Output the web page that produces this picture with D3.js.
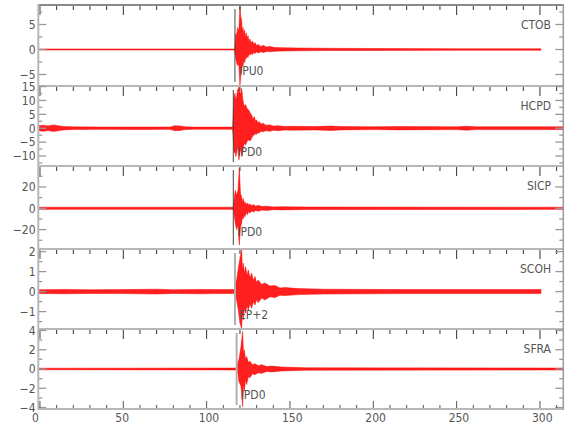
<!DOCTYPE html>
<html><head><meta charset="utf-8">
<script src="https://cdn.jsdelivr.net/npm/d3@7"></script>
<style>
html,body{margin:0;padding:0;background:#fff;}
svg text{font-family:"Liberation Sans Narrow","DejaVu Sans Condensed","Liberation Sans",sans-serif;}
</style></head>
<body><svg id="c" width="580" height="440"></svg>
<script>
// ---------- data ----------
const stations = ["CTOB","HCPD","SICP","SCOH","SFRA"];
const phases   = ["IPU0","IPD0","IPD0","EP+2","IPD0"];
const pickTimes = [117.0, 116.0, 116.0, 117.0, 118.0];
const yMaxs = [8.9, 15.2, 39.7, 2.13, 4.15];
const yMins = [-7.3, -13.6, -38.2, -1.87, -4.15];
const yTickLabels = [[-5,0,5],[-10,-5,0,5,10,15],[-20,0,20],[-1,0,1,2],[-4,-2,0,2,4]];
const yMinorSteps = [2.5, 2.5, 10, 0.5, 1];
const xTickLabels = [0,50,100,150,200,250,300];
const xMinorStep = 10;
const timeDomain = [-1, 314];

// CTOB envelope (time s, upper, lower)
const ctobT  = [-1,116.6,117.0,117.5,118.0,118.5,119.3,120.0,120.5,121.0,121.4,121.8,122.3,122.8,123.3,123.8,124.3,124.8,125.4,126.0,126.7,127.5,128.3,129.0,130.0,131.0,132.5,134.0,136.0,138.0,141,146,155,170,200,250,300.6];
const ctobHi = [0.1,0.1,0.6,3.2,2.6,4.4,3.6,8.8,6.5,5.9,3.5,4.4,3.0,3.9,2.4,3.3,2.0,2.8,1.6,2.1,1.3,1.7,1.0,1.4,0.8,1.0,0.6,0.8,0.5,0.6,0.4,0.35,0.3,0.25,0.2,0.15,0.15];
const ctobLo = [-0.1,-0.1,-0.6,-1.8,-2.6,-3.2,-3.0,-7.1,-5.2,-4.5,-2.8,-3.4,-2.2,-2.6,-1.7,-1.8,-1.3,-1.6,-1.0,-1.1,-0.8,-1.0,-0.6,-0.8,-0.5,-0.7,-0.45,-0.6,-0.4,-0.45,-0.35,-0.3,-0.25,-0.2,-0.2,-0.15,-0.15];

// HCPD envelope
const hcpdT  = [-1,2,5,8,11,14,20,36,60,78,81,84,87,92,110,115.6,116.0,116.5,117.0,117.5,118.0,118.6,119.4,120.2,121.0,121.8,122.6,123.4,124.2,125.2,126.2,127.0,127.8,128.6,129.3,130.0,130.8,131.5,132.5,134,135.5,138,140,143,147,151,165,175,180,200,215,250,256,262,314];
const hcpdHi = [0.9,1.1,0.8,1.2,0.9,0.6,0.5,0.4,0.45,0.4,0.9,0.8,0.5,0.4,0.4,0.4,6,11.4,12.6,10,11.4,13.8,14.8,12,14.4,10,7.8,8.5,7.2,6.6,5.4,4.8,3.2,4.2,2.6,3.0,1.9,2.4,1.5,1.8,1.1,1.2,0.8,0.9,0.6,0.7,0.6,0.8,0.6,0.5,0.6,0.5,0.7,0.5,0.5];
const hcpdLo = [-0.9,-1.1,-0.8,-1.2,-0.9,-0.6,-0.5,-0.4,-0.45,-0.4,-0.9,-0.8,-0.5,-0.4,-0.4,-0.4,-4,-9,-7.8,-10.2,-9,-6.6,-11.4,-7.2,-10.2,-8,-5.4,-6,-4.8,-4.2,-4.5,-3.6,-2.5,-2.4,-2.0,-2.2,-1.5,-1.8,-1.1,-1.3,-0.9,-1.1,-0.7,-0.9,-0.6,-0.7,-0.6,-0.8,-0.6,-0.5,-0.6,-0.5,-0.7,-0.5,-0.5];

// SICP envelope
const sicpT  = [-1,116.0,116.5,117.2,118.0,118.8,119.6,120.3,121.0,121.5,122.0,122.5,123.0,123.7,124.5,125.2,126.0,127.0,128.0,129.5,131,133,136,140,145,160,314];
const sicpHi = [1,1,8,17,12,17,37.9,14,10.9,6,9,5,6,3.5,5,3,4,2.5,3.5,2,2.8,1.6,2,1.3,1.5,1.2,1];
const sicpLo = [-1,-1,-6,-14,-20,-16,-34.6,-18,-14,-8,-10,-6,-8,-4,-6,-3,-4.5,-2.5,-3.5,-2,-2.8,-1.6,-2,-1.3,-1.5,-1.2,-1];

// SCOH envelope
const scohT  = [-1,15,30,50,70,80,95,105,116.8,117.3,118.0,119.0,120.0,121.0,121.5,122.0,122.7,123.4,124.2,125.0,126.0,127.0,128.0,129.0,130.0,131.0,133.0,135.0,138.0,141,144,147,155,170,220,300.6];
const scohHi = [0.09,0.11,0.09,0.1,0.12,0.09,0.11,0.1,0.1,0.4,0.58,1.17,1.67,2.08,1.1,1.42,0.9,1.25,0.8,1.08,0.7,0.92,0.55,0.75,0.45,0.58,0.35,0.43,0.28,0.3,0.18,0.2,0.15,0.12,0.1,0.1];
const scohLo = [-0.09,-0.11,-0.09,-0.1,-0.12,-0.09,-0.11,-0.1,-0.1,-0.3,-0.42,-0.92,-1.58,-1.85,-1.0,-1.42,-0.8,-1.08,-0.7,-0.92,-0.6,-0.83,-0.5,-0.67,-0.4,-0.55,-0.32,-0.42,-0.26,-0.3,-0.18,-0.2,-0.15,-0.12,-0.1,-0.1];

// SFRA envelope
const sfraT  = [-1,118.0,118.6,119.4,120.6,121.6,122.1,122.6,123.3,124.0,125.0,126.0,127.5,129.0,131.0,133.0,136.0,139.0,145,160,314];
const sfraHi = [0.08,0.1,0.6,1.0,2.3,3.9,1.5,2.0,1.0,1.3,0.7,0.8,0.45,0.55,0.35,0.45,0.25,0.3,0.2,0.12,0.1];
const sfraLo = [-0.08,-0.1,-0.25,-1.3,-1.8,-3.9,-1.6,-2.3,-1.1,-1.6,-0.8,-0.9,-0.5,-0.6,-0.4,-0.45,-0.25,-0.3,-0.2,-0.12,-0.1];

const envT  = [ctobT, hcpdT, sicpT, scohT, sfraT];
const envHi = [ctobHi, hcpdHi, sicpHi, scohHi, sfraHi];
const envLo = [ctobLo, hcpdLo, sicpLo, scohLo, sfraLo];

// ---------- layout ----------
const svg = d3.select("#c");
const panelTops = [5, 86, 166, 249, 329];
const bottom = 409;
const L = 38.3, R = 563.3;
const x = d3.scaleLinear().domain(timeDomain).range([L, R]);
const fmt = v => (v < 0 ? "\u2212" + Math.abs(v) : String(v));

const defs = svg.append("defs");

stations.forEach((st, i) => {
  const top = panelTops[i];
  const bot = i < 4 ? panelTops[i+1] : bottom;
  const y = d3.scaleLinear().domain([yMins[i], yMaxs[i]]).range([bot, top]);
  const g = svg.append("g");

  defs.append("clipPath").attr("id", "clip" + i)
    .append("rect").attr("x", L).attr("y", top).attr("width", R - L).attr("height", bot - top);

  // waveform envelope
  const n = Math.min(envT[i].length, envHi[i].length, envLo[i].length);
  const pts = d3.range(n).map(k => ({t: envT[i][k], hi: envHi[i][k], lo: envLo[i][k]}));
  const area = d3.area().x(d => x(d.t)).y0(d => y(d.lo)).y1(d => y(d.hi));
  g.append("path").datum(pts).attr("d", area)
    .attr("clip-path", "url(#clip" + i + ")")
    .attr("fill", "#ff0000").attr("fill-opacity", 0.88)
    .attr("stroke", "#ff0000").attr("stroke-width", 0.5);

  // pick marker
  const light = i >= 3;
  g.append("line")
    .attr("x1", x(pickTimes[i])).attr("x2", x(pickTimes[i]))
    .attr("y1", top + 4).attr("y2", bot - 4)
    .attr("stroke", light ? "#b0b0b0" : "#444")
    .attr("stroke-width", light ? 2 : 1);
  g.append("text")
    .attr("x", x(pickTimes[i]) + 4).attr("y", top + 66)
    .attr("dy", "0.35em").attr("font-size", 12).attr("fill", "#555")
    .text(phases[i]);

  // station name
  g.append("text").attr("x", 551).attr("y", top + 20).attr("dy", "0.35em")
    .attr("text-anchor", "end").attr("font-size", 12).attr("fill", "#555").text(st);

  // top frame line
  g.append("line").attr("x1", L).attr("x2", R).attr("y1", top).attr("y2", top)
    .attr("stroke", i === 0 ? "#8a8a8a" : "#b8b8b8").attr("stroke-width", 2);

  // top x ticks (pointing down)
  const xt = d3.range(0, timeDomain[1], xMinorStep);
  g.selectAll(".xt").data(xt).enter().append("line")
    .attr("x1", d => x(d)).attr("x2", d => x(d))
    .attr("y1", top + 1).attr("y2", d => top + (d % 50 === 0 ? 10 : 5))
    .attr("stroke", "#333").attr("stroke-width", 1);

  // y ticks
  const step = yMinorSteps[i];
  const minors = d3.range(Math.ceil(yMins[i] / step) * step, yMaxs[i] + 1e-9, step)
    .filter(v => y(v) > top + 0.5 && y(v) < bot - 0.5);
  const isMajor = v => yTickLabels[i].some(m => Math.abs(m - v) < 1e-9);
  [[L, 1], [R, -1]].forEach(([x0, dir]) => {
    g.selectAll(null).data(minors).enter().append("line")
      .attr("x1", x0).attr("x2", d => x0 + dir * (isMajor(d) ? 8 : 4))
      .attr("y1", d => y(d)).attr("y2", d => y(d))
      .attr("stroke", "#999").attr("stroke-width", 1.3);
  });
  g.selectAll(null).data(yTickLabels[i]).enter().append("text")
    .attr("x", 35.5).attr("y", d => y(d)).attr("dy", "0.36em")
    .attr("text-anchor", "end").attr("font-size", 12).attr("fill", "#555")
    .text(fmt);
});

// outer frame
svg.append("line").attr("x1", L).attr("x2", L).attr("y1", 4).attr("y2", bottom + 1)
  .attr("stroke", "#b8b8b8").attr("stroke-width", 2);
svg.append("line").attr("x1", R).attr("x2", R).attr("y1", 4).attr("y2", bottom + 1)
  .attr("stroke", "#9a9a9a").attr("stroke-width", 1.5);
svg.append("line").attr("x1", L).attr("x2", R).attr("y1", bottom).attr("y2", bottom)
  .attr("stroke", "#b8b8b8").attr("stroke-width", 2);

// bottom x axis ticks (pointing up) and labels
const bt = d3.range(0, timeDomain[1], xMinorStep);
svg.selectAll(".bt").data(bt).enter().append("line")
  .attr("x1", d => x(d)).attr("x2", d => x(d))
  .attr("y1", bottom - 1).attr("y2", d => bottom - (d % 50 === 0 ? 8 : 4))
  .attr("stroke", "#555").attr("stroke-width", 1);
svg.selectAll(".bl").data(xTickLabels).enter().append("text")
  .attr("x", d => x(d) - 8).attr("y", 418).attr("dy", "0.36em")
  .attr("font-size", 12).attr("fill", "#555").text(d => d);
</script></body></html>
